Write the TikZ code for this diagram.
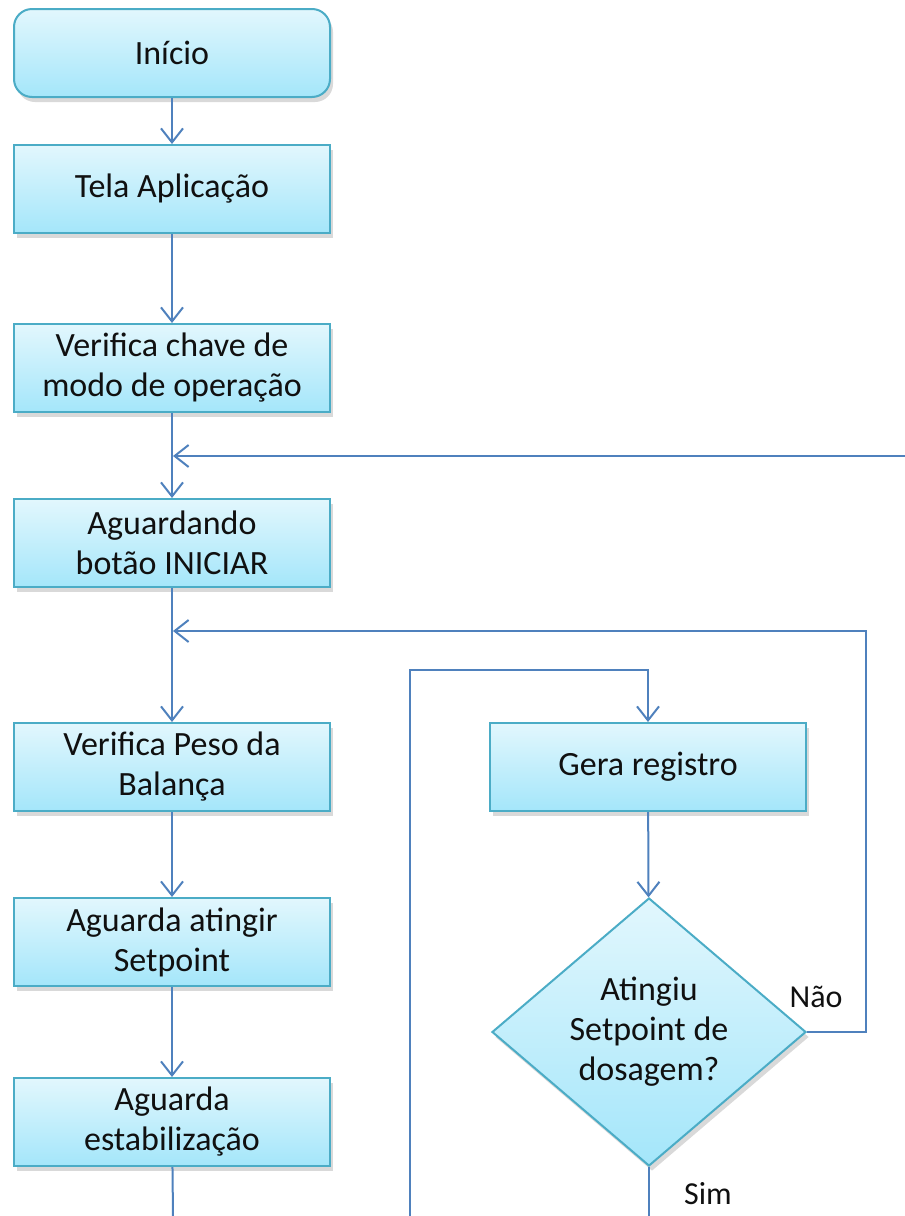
\documentclass[tikz,border=0pt]{standalone}
\usepackage{fontspec}
\setmainfont{Carlito}
\usetikzlibrary{arrows.meta,shapes.geometric,shadows}
\definecolor{lineblue}{HTML}{4F81BD}
\definecolor{boxedge}{HTML}{4BACC6}
\definecolor{filltop}{HTML}{E2F7FD}
\definecolor{fillbot}{HTML}{A4E6FA}
\definecolor{txt}{HTML}{101010}
\tikzset{
  procbox/.style={draw=boxedge, line width=2pt, top color=filltop, bottom color=fillbot,
    minimum width=316pt, minimum height=88pt, inner sep=0pt, align=center,
    text=txt, font=\fontsize{34}{40}\selectfont,
    drop shadow={shadow xshift=3pt, shadow yshift=-5pt, opacity=0.25, fill=black!60}},
  startbox/.style={procbox, rounded corners=18pt},
  decbox/.style={procbox, shape=diamond, minimum width=314pt, minimum height=268pt, aspect=1.17},
  conn/.style={draw=lineblue, line width=2pt, -{Straight Barb[length=14pt,width=22pt,line width=2pt]}},
  plain/.style={draw=lineblue, line width=2pt},
  lbl/.style={text=txt, font=\fontsize{32}{38}\selectfont, inner sep=0pt}
}
\begin{document}
\begin{tikzpicture}[x=1pt,y=-1pt]
\useasboundingbox (0,0) rectangle (905,1216);
\node[startbox] (ini) at (172,53) {Início};
\node[procbox] (tela) at (172,189) {Tela Aplicação};
\node[procbox] (verif) at (172,368) {Verifica chave de\\modo de operação};
\node[procbox] (aguard) at (172,543) {Aguardando\\botão INICIAR};
\node[procbox] (peso) at (172,767) {Verifica Peso da\\Balança};
\node[procbox] (ating) at (172,942) {Aguarda atingir\\Setpoint};
\node[procbox] (estab) at (172,1122) {Aguarda\\estabilização};
\node[procbox] (gera) at (648,767) {Gera registro};
\node[decbox] (dec) at (649,1032) {Atingiu\\Setpoint de\\dosagem?};
\node[lbl] (nao) at (816,997) {Não};
\node[lbl] (sim) at (708,1194) {Sim};

\coordinate (rin) at (905,456);
\coordinate (j1) at (173,456);
\coordinate (j2) at (173,631);
\coordinate (c1) at (866,1032);
\coordinate (c2) at (866,631);
\coordinate (bl) at (410,1216);
\coordinate (bt) at (410,670);
\coordinate (bd) at (649,1216);
\coordinate (be) at (173,1216);

\draw[conn] (ini) -- (tela);
\draw[conn] (tela) -- (verif);
\draw[conn] (verif) -- (aguard);
\draw[conn] (rin) -- (j1);
\draw[conn] (aguard) -- (peso);
\draw[conn] (dec.east) -- (c1) -- (c2) -- (j2);
\draw[conn] (bl) -- (bt) -| (gera.north);
\draw[conn] (gera) -- (dec);
\draw[plain] (dec.south) -- (bd);
\draw[conn] (peso) -- (ating);
\draw[conn] (ating) -- (estab);
\draw[plain] (estab) -- (be);
\end{tikzpicture}
\end{document}
